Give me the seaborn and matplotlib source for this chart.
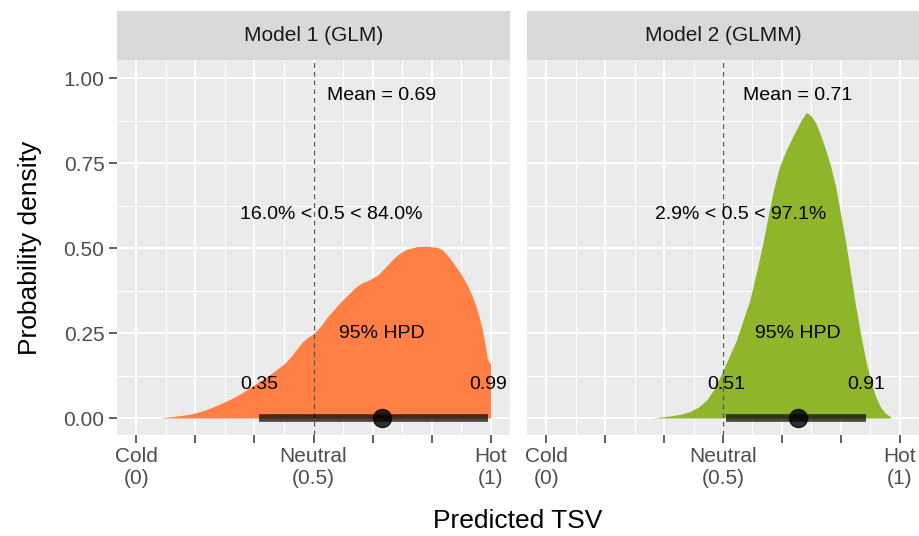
import numpy as np
import pandas as pd
import matplotlib
matplotlib.use("Agg")
import matplotlib.pyplot as plt
from matplotlib.patches import Rectangle
import seaborn as sns

# --- Data ---
models = ["Model 1 (GLM)", "Model 2 (GLMM)"]
colors = ["#FF7F45", "#8FB62A"]

glm_x = [0.07, 0.10, 0.13, 0.155, 0.19, 0.215, 0.24, 0.27, 0.30, 0.324, 0.35,
         0.38, 0.418, 0.44, 0.465, 0.485, 0.502, 0.52, 0.54, 0.56, 0.577, 0.60,
         0.617, 0.634, 0.655, 0.681, 0.70, 0.718, 0.733, 0.746, 0.765, 0.793,
         0.82, 0.85, 0.865, 0.878, 0.895, 0.915, 0.935, 0.953, 0.966, 0.977,
         0.985, 0.99, 0.995, 1.0]
glm_d = [0.001, 0.004, 0.008, 0.012, 0.022, 0.032, 0.043, 0.058, 0.075, 0.092,
         0.11, 0.13, 0.16, 0.185, 0.22, 0.238, 0.249, 0.27, 0.298, 0.322, 0.342,
         0.365, 0.383, 0.396, 0.405, 0.42, 0.44, 0.46, 0.476, 0.486, 0.497,
         0.504, 0.505, 0.502, 0.494, 0.479, 0.456, 0.426, 0.39, 0.347, 0.305,
         0.259, 0.215, 0.18, 0.165, 0.16]

glmm_x = [0.30, 0.35, 0.38, 0.407, 0.43, 0.454, 0.475, 0.496, 0.515, 0.538,
          0.556, 0.576, 0.595, 0.613, 0.627, 0.641, 0.65, 0.66, 0.67, 0.679,
          0.693, 0.707, 0.721, 0.735, 0.742, 0.75, 0.763, 0.777, 0.791, 0.805,
          0.819, 0.833, 0.848, 0.862, 0.876, 0.89, 0.904, 0.918, 0.932, 0.946,
          0.96, 0.974]
glmm_d = [0.0, 0.006, 0.011, 0.019, 0.032, 0.053, 0.085, 0.131, 0.175, 0.229,
          0.285, 0.347, 0.43, 0.514, 0.59, 0.661, 0.70, 0.739, 0.765, 0.788,
          0.818, 0.847, 0.875, 0.898, 0.895, 0.888, 0.867, 0.83, 0.788, 0.74,
          0.68, 0.6, 0.514, 0.42, 0.327, 0.245, 0.171, 0.11, 0.063, 0.032,
          0.014, 0.004]

means = [0.693, 0.712]
hpd_lo = [0.347, 0.508]
hpd_hi = [0.993, 0.906]
prob_text = ["16.0% < 0.5 < 84.0%", "2.9% < 0.5 < 97.1%"]

xticks = [0, 1/6, 2/6, 0.5, 4/6, 5/6, 1]
xlabels = ["Cold\n(0)", "", "", "Neutral\n(0.5)", "", "", "Hot\n(1)"]
yticks = [0, 0.25, 0.5, 0.75, 1.0]

df = pd.concat([
    pd.DataFrame({"model": models[0], "x": glm_x, "density": glm_d}),
    pd.DataFrame({"model": models[1], "x": glmm_x, "density": glmm_d}),
])

# --- Style ---
sns.set_theme(style="darkgrid", rc={
    "axes.facecolor": "#EBEBEB",
    "grid.color": "white",
    "axes.edgecolor": "none",
})
plt.rcParams["font.family"] = ["Liberation Sans", "DejaVu Sans"]

g = sns.FacetGrid(df, col="model", col_order=models, sharex=True, sharey=True)


def draw_density(data, color=None, label=None):
    ax = plt.gca()
    i = models.index(data["model"].iloc[0])
    ax.fill_between(data["x"], 0, data["density"], color=colors[i], lw=0, zorder=2)


g.map_dataframe(draw_density)

fig = g.figure
fig.set_size_inches(9.2, 5.36)
positions = [[117 / 920, 1 - 435 / 536, 393 / 920, 375 / 536],
             [527 / 920, 1 - 435 / 536, 392 / 920, 375 / 536]]

for i, ax in enumerate(g.axes.flat):
    ax.set_position(positions[i])
    ax.set_xlim(-0.055, 1.055)
    ax.set_ylim(-0.05, 1.053)
    ax.set_title("")
    ax.set_xlabel("")
    ax.set_ylabel("")

    ax.set_xticks(xticks)
    ax.set_xticklabels(xlabels)
    ax.set_xticks([k / 12 for k in range(1, 12, 2)], minor=True)
    ax.set_yticks(yticks)
    ax.set_yticklabels([f"{v:.2f}" for v in yticks])
    ax.set_yticks([0.125, 0.375, 0.625, 0.875], minor=True)
    ax.grid(which="major", color="white", lw=1.4)
    ax.grid(which="minor", color="white", lw=0.7)
    ax.tick_params(which="major", length=6, width=1.1, color="#333333",
                   labelsize=15, labelcolor="#4D4D4D", pad=3,
                   bottom=True, left=(i == 0), labelleft=(i == 0))
    ax.tick_params(which="minor", length=0)

    # neutral line
    ax.axvline(0.5, color="#555555", lw=0.9, ls=(0, (4, 3)), zorder=3)

    # HPD bar and mean point
    ax.plot([hpd_lo[i], hpd_hi[i]], [0, 0], color="black", alpha=0.7,
            lw=5.5, solid_capstyle="butt", zorder=4)
    ax.plot(means[i], 0, "o", color="black", alpha=0.8, ms=13, zorder=5)

    # annotations
    ax.text(means[i], 0.95, f"Mean = {means[i]:.2f}", ha="center", va="center",
            fontsize=14, color="black", zorder=6)
    ax.text(0.55, 0.6, prob_text[i], ha="center", va="center",
            fontsize=14, color="black", zorder=6)
    ax.text(means[i], 0.25, "95% HPD", ha="center", va="center",
            fontsize=14, color="black", zorder=6)
    ax.text(hpd_lo[i], 0.1, f"{hpd_lo[i]:.2f}", ha="center", va="center",
            fontsize=14, color="black", zorder=6)
    ax.text(hpd_hi[i], 0.1, f"{hpd_hi[i]:.2f}", ha="center", va="center",
            fontsize=14, color="black", zorder=6)

    # facet strip
    strip_h = 49 / 375
    ax.add_patch(Rectangle((0, 1), 1, strip_h, transform=ax.transAxes,
                           facecolor="#D9D9D9", edgecolor="none", clip_on=False))
    ax.text(0.5, 1 + strip_h / 2, models[i], transform=ax.transAxes,
            ha="center", va="center", fontsize=15, color="#1A1A1A")

fig.text(518 / 920, 1 - 521 / 536, "Predicted TSV", ha="center", va="center",
         fontsize=19, color="black")
fig.text(30 / 920, 1 - 248 / 536, "Probability density", ha="center", va="center",
         rotation=90, fontsize=19, color="black")

fig.savefig("out.png", dpi=100, facecolor="white")
